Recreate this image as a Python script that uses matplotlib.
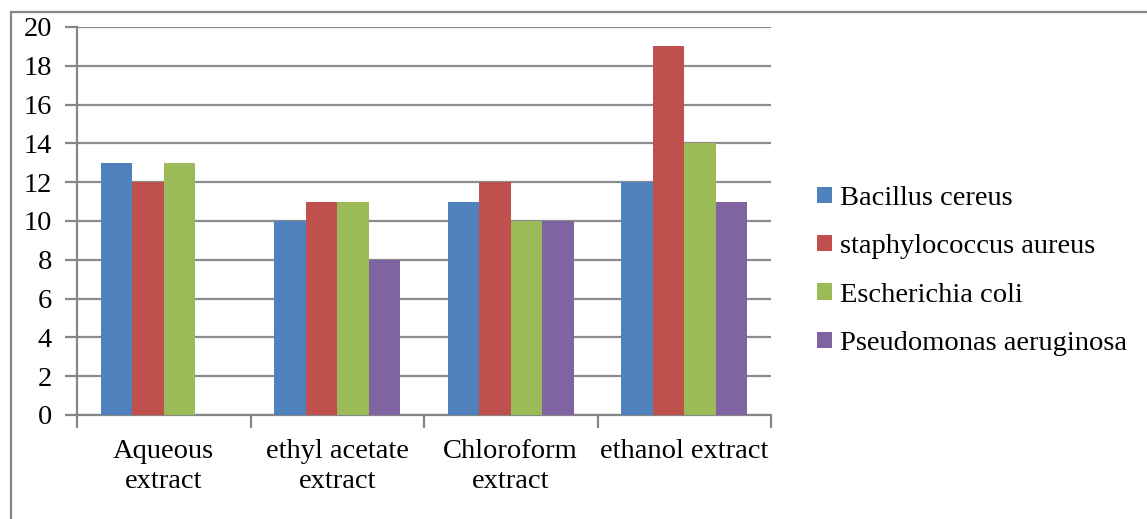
import numpy as np
from matplotlib import pyplot as plt
from matplotlib.patches import Rectangle

plt.rcParams['font.family'] = ['Liberation Serif', 'DejaVu Serif']

extracts = ["Aqueous\nextract", "ethyl acetate\nextract", "Chloroform\nextract", "ethanol extract"]
organisms = ["Bacillus cereus", "staphylococcus aureus", "Escherichia coli", "Pseudomonas aeruginosa"]
bacillus = [13, 10, 11, 12]
staph = [12, 11, 12, 19]
ecoli = [13, 11, 10, 14]
pseudo = [np.nan, 8, 10, 11]
colors = ["#4F81BD", "#C0504D", "#9BBB59", "#8064A2"]

W, H = 1147, 519
fs = 20.5
fig = plt.figure(figsize=(W / 100, H / 100), dpi=100)
ax = fig.add_axes([77 / W, 1 - 415 / H, (771 - 77) / W, (415 - 27) / H])

# chart border
fig.patches.append(Rectangle((11 / W, -0.1), 1.2, 1 - 12 / H + 0.1, transform=fig.transFigure,
                             fill=False, edgecolor="#868686", linewidth=1.6))

x = np.arange(len(extracts))
bw = 1 / 5.5
for i, (vals, name) in enumerate(zip([bacillus, staph, ecoli, pseudo], organisms)):
    ax.bar(x + (i - 1.5) * bw, vals, width=bw, color=colors[i], label=name, zorder=3)

ax.set_xlim(-0.5, len(extracts) - 0.5)
ax.set_ylim(0, 20)
ax.set_yticks(np.arange(0, 21, 2))
ax.yaxis.grid(True, color="#8c8c8c", linewidth=1.6, zorder=0)
ax.set_axisbelow(True)

for s in ["top", "right"]:
    ax.spines[s].set_visible(False)
for s in ["left", "bottom"]:
    ax.spines[s].set_color("#868686")
    ax.spines[s].set_linewidth(1.6)

ax.set_xticks(np.arange(-0.5, len(extracts)), minor=False)
ax.set_xticklabels([])
ax.set_xticks(x, minor=True)
ax.set_xticklabels(extracts, minor=True, fontsize=fs, linespacing=1.3)
ax.tick_params(axis="x", which="major", length=9, width=1.6, color="#868686", direction="out")
ax.tick_params(axis="x", which="minor", length=0, pad=17)
ax.tick_params(axis="y", length=9, width=1.6, color="#868686", labelsize=fs, pad=9)

ax.legend(loc="center left", bbox_to_anchor=(806 / W, 1 - 271 / H), bbox_transform=fig.transFigure,
          frameon=False, fontsize=fs, handlelength=0.5, handleheight=0.5, handletextpad=0.3,
          labelspacing=0.82, borderaxespad=0)

fig.savefig("out.png", dpi=100)
